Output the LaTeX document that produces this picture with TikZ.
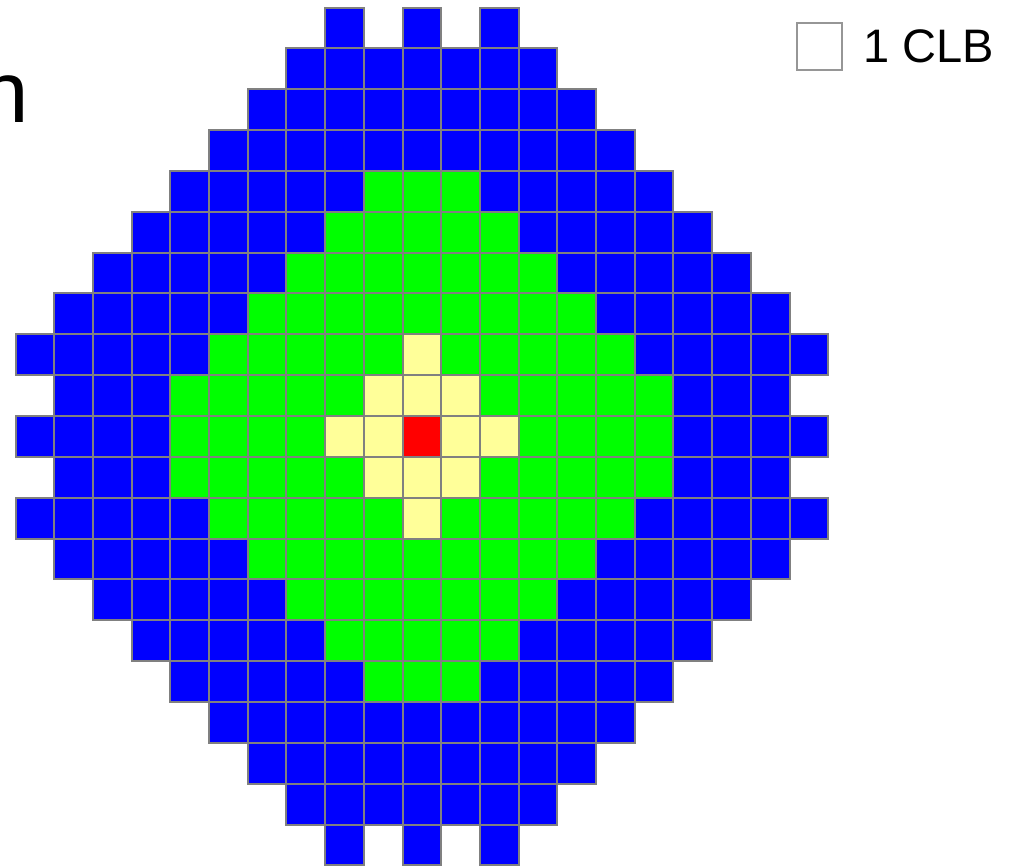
\documentclass[tikz,border=0pt]{standalone}
\usepackage{fontspec}
\setmainfont{Liberation Sans}
\usepackage{tikz}
\usetikzlibrary{positioning}

\definecolor{clbblue}{RGB}{0,0,255}
\definecolor{clbgreen}{RGB}{0,255,0}
\definecolor{clbyellow}{RGB}{255,255,153}
\definecolor{clbred}{RGB}{255,0,0}
\definecolor{cellgray}{RGB}{128,128,128}
\definecolor{boxgray}{RGB}{150,150,150}

\begin{document}
\begin{tikzpicture}[
  x=1pt, y=-1pt,
  cell/.style={draw=cellgray, line width=2pt},
  legendbox/.style={draw=boxgray, line width=2pt, fill=white, minimum width=45pt, minimum height=47pt, inner sep=0pt},
  bigtext/.style={font=\fontsize{47}{56}\selectfont, inner sep=0pt}
]
\useasboundingbox (0,0) rectangle (1014,865);

% partly cut label at the left edge
\node[font=\fontsize{87}{100}\selectfont, inner sep=0pt, anchor=base east] (cutlabel) at (29,122) {n};

% legend
\node[legendbox] (onecell) at (819,46) {};
\node[bigtext, right=21pt of onecell] (onecelltext) {1 CLB};

% grid of CLBs, row by row
\begin{scope}[shift={(15.5pt,-7.5pt)}, x=38.7pt, y=-40.85pt]
  \foreach \r in {0,20}
    \foreach \c in {8,10,12}
      \draw[cell, fill=clbblue] (\c,\r) rectangle ++(1,1);
  \foreach \r/\lo/\hi in {1/7/13, 2/6/14, 3/5/15, 4/4/16, 5/3/17, 6/2/18, 7/1/19,
                          8/0/20, 9/1/19, 10/0/20, 11/1/19, 12/0/20, 13/1/19,
                          14/2/18, 15/3/17, 16/4/16, 17/5/15, 18/6/14, 19/7/13}
    \foreach \c in {\lo,...,\hi}
      \draw[cell, fill=clbblue] (\c,\r) rectangle ++(1,1);
  % green region
  \foreach \r/\lo/\hi in {4/9/11, 5/8/12, 6/7/13, 7/6/14, 8/5/15, 9/4/16, 10/4/16,
                          11/4/16, 12/5/15, 13/6/14, 14/7/13, 15/8/12, 16/9/11}
    \foreach \c in {\lo,...,\hi}
      \draw[cell, fill=clbgreen] (\c,\r) rectangle ++(1,1);
  % yellow region
  \foreach \r/\lo/\hi in {8/10/10, 9/9/11, 10/8/12, 11/9/11, 12/10/10}
    \foreach \c in {\lo,...,\hi}
      \draw[cell, fill=clbyellow] (\c,\r) rectangle ++(1,1);
  % centre
  \draw[cell, fill=clbred] (10,10) rectangle ++(1,1);
\end{scope}
\end{tikzpicture}
\end{document}
